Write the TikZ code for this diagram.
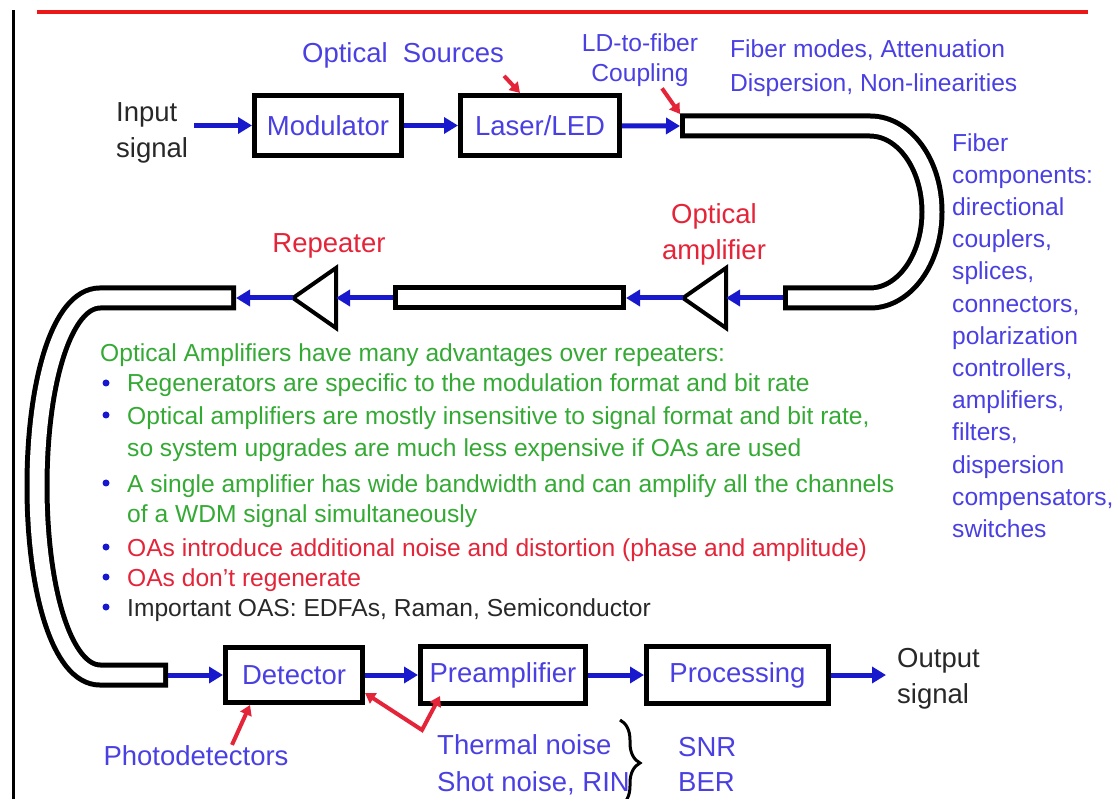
\documentclass[tikz,border=0pt]{standalone}
\usepackage{fontspec}
\setmainfont{Liberation Sans}
\usetikzlibrary{positioning}
\usetikzlibrary{arrows.meta}
\usetikzlibrary{decorations.pathreplacing}
\definecolor{labblue}{RGB}{74,64,226}
\definecolor{sigblue}{RGB}{24,24,204}
\definecolor{labred}{RGB}{228,36,56}
\definecolor{labgreen}{RGB}{52,170,52}
\definecolor{rulered}{RGB}{236,24,24}
\definecolor{labgray}{RGB}{40,40,40}
\tikzset{blockbox/.style={rectangle,draw=black,fill=white,line width=5pt,
inner sep=0pt,text=labblue,font=\fontsize{27.5}{34}\selectfont}}
\tikzset{sigarrow/.style={draw=sigblue,line width=5pt,-{Triangle[length=14pt,width=16pt]}}}
\tikzset{notearrow/.style={draw=labred,line width=4pt,-{Triangle[length=10pt,width=12pt]}}}
\tikzset{fiber/.style={draw=black,line width=25pt,
postaction={draw=white,line width=15pt,shorten >=5pt,shorten <=5pt}}}
\tikzset{amptri/.style={draw=black,line width=4pt}}
\tikzset{bigtext/.style={inner sep=0pt,font=\fontsize{27.5}{36}\selectfont}}
\tikzset{smalltext/.style={inner sep=0pt,align=left,font=\fontsize{24.6}{32.2}\selectfont}}
\tikzset{bulletdot/.style={circle,fill=sigblue,inner sep=0pt,minimum size=7pt}}

\begin{document}
\begin{tikzpicture}[x=1pt,y=-1pt]
\useasboundingbox (0,0) rectangle (1117,799);
% frame
\draw[line width=3pt] (13,10) -- (13,799);
\draw[rulered,line width=4.5pt] (37,12) -- (1088,12);

% transmitter
\node[bigtext,text=labgray,align=left,anchor=north west] (insig) at (116,102) {Input\\signal};
\node[blockbox,minimum width=147pt,minimum height=60pt] (mod) at (328,125.5) {Modulator};
\node[blockbox,minimum width=159pt,minimum height=60pt] (laser) [right=54pt of mod] {Laser/LED};
\node[bigtext,text=labblue,anchor=base] (srcs) at (403,63) {Optical\ \ Sources};
\node[smalltext,text=labblue,align=center,anchor=north,font=\fontsize{24.6}{30}\selectfont] (ldtxt) at (640,33) {LD-to-fiber\\Coupling};
\node[smalltext,text=labblue,anchor=north west,font=\fontsize{24.6}{34}\selectfont] (fmodes) at (730,39) {Fiber modes, Attenuation\\Dispersion, Non-linearities};

% fibre link
\coordinate (f1in) at (680,126);
\coordinate (f1out) at (783,298);
\coordinate (f2in) at (626,298);
\coordinate (f2out) at (393,298);
\coordinate (f3in) at (236,298);
\coordinate (f3out) at (168,675);
\draw[fiber] (f1in) -- (870,126) .. controls (904,126) and (932,164) .. (932,212)
  .. controls (932,260) and (904,298) .. (870,298) -- (f1out);
\draw[fiber] (f2in) -- (f2out);
\draw[fiber] (f3in) -- (100,298) .. controls (62,298) and (37,382) .. (37,486)
  .. controls (37,590) and (62,675) .. (100,675) -- (f3out);

\draw[amptri] (726,268) -- (726,328) -- (683,298) -- cycle;
\coordinate (oain) at (726,298);
\coordinate (oaout) at (683,298);
\draw[amptri] (336,268) -- (336,328) -- (293,298) -- cycle;
\coordinate (repin) at (336,298);
\coordinate (repout) at (293,298);
\node[bigtext,text=labred,align=center,anchor=north] (oatxt) at (714,203) {Optical\\amplifier};
\node[bigtext,text=labred,anchor=base] (reptxt) at (329,253) {Repeater};
\node[smalltext,text=labblue,anchor=north west] (fcomp) at (952,133) {Fiber\\components:\\directional\\couplers,\\splices,\\connectors,\\polarization\\controllers,\\amplifiers,\\filters,\\dispersion\\compensators,\\switches};

\draw[sigarrow] ([xshift=6pt]insig.east |- mod.west) -- (mod.west);
\draw[sigarrow] (mod) -- (laser);
\draw[sigarrow] (laser) -- (f1in);
\draw[sigarrow] (f1out) -- (oain);
\draw[sigarrow] (oaout) -- (f2in);
\draw[sigarrow] (f2out) -- (repin);
\draw[sigarrow] (repout) -- (f3in);
\draw[notearrow] ([yshift=-7pt]srcs.south east) -- ([xshift=-20pt]laser.north);
\draw[notearrow] ([xshift=22pt,yshift=-2pt]ldtxt.south) -- ([yshift=12pt]f1in);

% advantages list
\node[smalltext,text=labgreen,anchor=base west] (oahead) at (100,362) {Optical Amplifiers have many advantages over repeaters:};
\node[smalltext,text=labgreen,anchor=base west] (item1) at (127,392) {Regenerators are specific to the modulation format and bit rate};
\node[smalltext,text=labgreen,anchor=north west,font=\fontsize{24.6}{32}\selectfont] (item2) at (127,406) {Optical amplifiers are mostly insensitive to signal format and bit rate,\\so system upgrades are much less expensive if OAs are used};
\node[smalltext,text=labgreen,anchor=north west,font=\fontsize{24.6}{30.5}\selectfont] (item3) at (127,474) {A single amplifier has wide bandwidth and can amplify all the channels\\of a WDM signal simultaneously};
\node[smalltext,text=labred,anchor=base west] (item4) at (127,556) {OAs introduce additional noise and distortion (phase and amplitude)};
\node[smalltext,text=labred,anchor=base west] (item5) at (127,586) {OAs don't regenerate};
\node[smalltext,text=labgray,anchor=base west] (item6) at (127,616) {Important OAS: EDFAs, Raman, Semiconductor};
\node[bulletdot] (b1) at (106,383) {};
\node[bulletdot] (b2) at (106,415) {};
\node[bulletdot] (b3) at (106,483) {};
\node[bulletdot] (b4) at (106,547) {};
\node[bulletdot] (b5) at (106,577) {};
\node[bulletdot] (b6) at (106,607) {};

% receiver
\node[blockbox,minimum width=137pt,minimum height=55pt] (det) at (294,675) {Detector};
\node[blockbox,minimum width=165pt,minimum height=57pt] (pre) [right=53pt of det] {Preamplifier};
\node[blockbox,minimum width=182pt,minimum height=57pt] (proc) [right=56pt of pre] {Processing};
\node[bigtext,text=labgray,align=left,anchor=north west] (outsig) at (897,648) {Output\\signal};
\coordinate (outend) at (886,675);
\draw[sigarrow] (f3out) -- (det);
\draw[sigarrow] (det) -- (pre);
\draw[sigarrow] (pre) -- (proc);
\draw[sigarrow] (proc) -- (outend);

\node[bigtext,text=labblue,anchor=base] (phtxt) at (196,765) {Photodetectors};
\node[bigtext,text=labblue,align=left,anchor=north west,font=\fontsize{27.5}{37}\selectfont] (noise) at (437,734) {Thermal noise\\Shot noise, RIN};
\node[bigtext,text=labblue,align=left,anchor=north west,font=\fontsize{27.5}{35}\selectfont] (snr) at (678,737) {SNR\\BER};
\coordinate (kink) at (422,730);
\draw[notearrow] ([xshift=36pt]phtxt.north) -- ([xshift=-44pt]det.south);
\draw[notearrow,{Triangle[length=10pt,width=12pt]}-{Triangle[length=10pt,width=12pt]}]
  ([yshift=12pt]det.south east) -- (kink) -- ([xshift=22pt,yshift=10pt]pre.south west);
\draw[line width=3pt,decorate,decoration={brace,amplitude=20pt,aspect=0.5}] (620,720) -- (620,806);
\end{tikzpicture}
\end{document}
